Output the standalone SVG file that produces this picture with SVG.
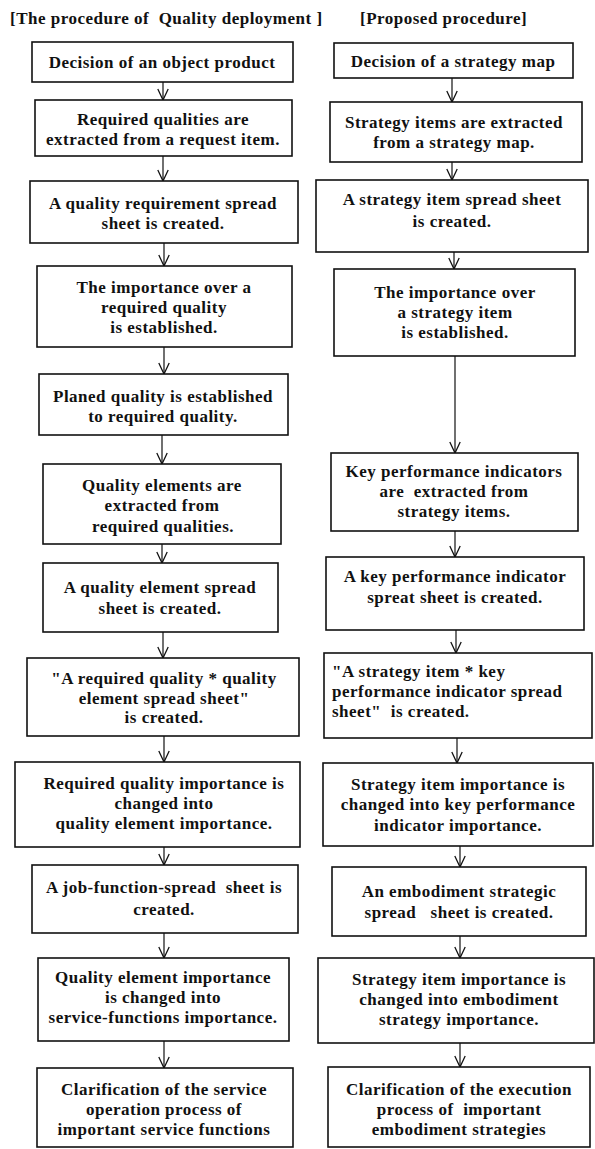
<svg xmlns="http://www.w3.org/2000/svg" width="595" height="1149" viewBox="0 0 595 1149">
  <style>
    .box { fill: #fff; stroke: #111; stroke-width: 1.6; }
    .t { font-family: "Liberation Serif", "Times New Roman", serif; font-weight: bold; font-size: 17px; letter-spacing: 0.5px; fill: #111; text-anchor: middle; }
    .tl { text-anchor: start; }
    .head { font-family: "Liberation Serif", "Times New Roman", serif; font-weight: bold; font-size: 17px; letter-spacing: 0.5px; fill: #111; }
    .conn { stroke: #111; stroke-width: 1.2; fill: none; marker-end: url(#arr); }
  </style>
  <defs>
    <marker id="arr" markerUnits="userSpaceOnUse" markerWidth="14" markerHeight="12" viewBox="0 0 14 12" refX="12" refY="6" orient="auto">
      <path d="M1,0.8 L12,6 L1,11.2" fill="none" stroke="#111" stroke-width="1.3"/>
    </marker>
  </defs>
  <rect width="595" height="1149" fill="#fff"/>

  <!-- column headings -->
  <text class="head" x="10" y="24" xml:space="preserve">[The procedure of  Quality deployment ]</text>
  <text class="head" x="360" y="24">[Proposed procedure]</text>

  <!-- connectors -->
  <g id="connectors">
    <line class="conn" x1="163" y1="82" x2="163" y2="100"/>
    <line class="conn" x1="163" y1="156" x2="163" y2="181"/>
    <line class="conn" x1="164" y1="243" x2="164" y2="266"/>
    <line class="conn" x1="164" y1="347" x2="164" y2="374"/>
    <line class="conn" x1="162" y1="435" x2="162" y2="464"/>
    <line class="conn" x1="162" y1="544" x2="162" y2="563"/>
    <line class="conn" x1="163" y1="632" x2="163" y2="658"/>
    <line class="conn" x1="164" y1="736" x2="164" y2="762"/>
    <line class="conn" x1="164" y1="847" x2="164" y2="865"/>
    <line class="conn" x1="164" y1="933" x2="164" y2="958"/>
    <line class="conn" x1="164" y1="1041" x2="164" y2="1068"/>

    <line class="conn" x1="452" y1="78" x2="452" y2="102"/>
    <line class="conn" x1="452" y1="162" x2="452" y2="180"/>
    <line class="conn" x1="454" y1="252" x2="454" y2="269"/>
    <line class="conn" x1="455" y1="356" x2="455" y2="453"/>
    <line class="conn" x1="455" y1="531" x2="455" y2="557"/>
    <line class="conn" x1="456" y1="630" x2="456" y2="653"/>
    <line class="conn" x1="457" y1="738" x2="457" y2="763"/>
    <line class="conn" x1="460" y1="846" x2="460" y2="867"/>
    <line class="conn" x1="460" y1="936" x2="460" y2="958"/>
    <line class="conn" x1="460" y1="1043" x2="460" y2="1067"/>
  </g>

  <!-- left column: quality deployment -->
  <g id="q1">
    <rect class="box" x="32" y="42" width="261" height="40"/>
    <text class="t" x="162" y="68">Decision of an object product</text>
  </g>
  <g id="q2">
    <rect class="box" x="35" y="100" width="257" height="56"/>
    <text class="t" x="163" y="125">Required qualities are</text>
    <text class="t" x="163" y="145">extracted from a request item.</text>
  </g>
  <g id="q3">
    <rect class="box" x="30" y="181" width="268" height="62"/>
    <text class="t" x="163" y="209">A quality requirement spread</text>
    <text class="t" x="163" y="229">sheet is created.</text>
  </g>
  <g id="q4">
    <rect class="box" x="37" y="266" width="255" height="81"/>
    <text class="t" x="164" y="293">The importance over a</text>
    <text class="t" x="164" y="313">required quality</text>
    <text class="t" x="164" y="333">is established.</text>
  </g>
  <g id="q5">
    <rect class="box" x="39" y="374" width="249" height="61"/>
    <text class="t" x="163" y="402">Planed quality is established</text>
    <text class="t" x="163" y="422">to required quality.</text>
  </g>
  <g id="q6">
    <rect class="box" x="43" y="464" width="238" height="80"/>
    <text class="t" x="162" y="491">Quality elements are</text>
    <text class="t" x="162" y="511">extracted from</text>
    <text class="t" x="163" y="532">required qualities.</text>
  </g>
  <g id="q7">
    <rect class="box" x="43" y="563" width="235" height="69"/>
    <text class="t" x="160" y="593">A quality element spread</text>
    <text class="t" x="160" y="614">sheet is created.</text>
  </g>
  <g id="q8">
    <rect class="box" x="27" y="658" width="272" height="78"/>
    <text class="t" x="164" y="684">"A required quality * quality</text>
    <text class="t" x="164" y="704">element spread sheet"</text>
    <text class="t" x="164" y="723">is created.</text>
  </g>
  <g id="q9">
    <rect class="box" x="15" y="762" width="285" height="85"/>
    <text class="t" x="164" y="789">Required quality importance is</text>
    <text class="t" x="164" y="809">changed into</text>
    <text class="t" x="164" y="829">quality element importance.</text>
  </g>
  <g id="q10">
    <rect class="box" x="32" y="865" width="266" height="68"/>
    <text class="t" x="164" y="893" xml:space="preserve">A job-function-spread  sheet is</text>
    <text class="t" x="164" y="915">created.</text>
  </g>
  <g id="q11">
    <rect class="box" x="38" y="958" width="251" height="83"/>
    <text class="t" x="163" y="983">Quality element importance</text>
    <text class="t" x="163" y="1003">is changed into</text>
    <text class="t" x="163" y="1023">service-functions importance.</text>
  </g>
  <g id="q12">
    <rect class="box" x="37" y="1068" width="256" height="79"/>
    <text class="t" x="164" y="1095">Clarification of the service</text>
    <text class="t" x="164" y="1115">operation process of</text>
    <text class="t" x="164" y="1135">important service functions</text>
  </g>

  <!-- right column: proposed procedure -->
  <g id="p1">
    <rect class="box" x="334" y="43" width="239" height="35"/>
    <text class="t" x="453" y="67">Decision of a strategy map</text>
  </g>
  <g id="p2">
    <rect class="box" x="330" y="102" width="252" height="60"/>
    <text class="t" x="454" y="128">Strategy items are extracted</text>
    <text class="t" x="454" y="148">from a strategy map.</text>
  </g>
  <g id="p3">
    <rect class="box" x="316" y="180" width="272" height="72"/>
    <text class="t" x="452" y="205">A strategy item spread sheet</text>
    <text class="t" x="452" y="227">is created.</text>
  </g>
  <g id="p4">
    <rect class="box" x="334" y="269" width="241" height="87"/>
    <text class="t" x="455" y="298">The importance over</text>
    <text class="t" x="455" y="318">a strategy item</text>
    <text class="t" x="455" y="338">is established.</text>
  </g>
  <g id="p5">
    <rect class="box" x="331" y="453" width="247" height="78"/>
    <text class="t" x="454" y="477">Key performance indicators</text>
    <text class="t" x="454" y="497" xml:space="preserve">are  extracted from</text>
    <text class="t" x="454" y="517">strategy items.</text>
  </g>
  <g id="p6">
    <rect class="box" x="326" y="557" width="258" height="73"/>
    <text class="t" x="455" y="582">A key performance indicator</text>
    <text class="t" x="455" y="603">spreat sheet is created.</text>
  </g>
  <g id="p7">
    <rect class="box" x="324" y="653" width="268" height="85"/>
    <text class="t tl" x="332" y="677">"A strategy item * key</text>
    <text class="t tl" x="332" y="697">performance indicator spread</text>
    <text class="t tl" x="332" y="717" xml:space="preserve">sheet"  is created.</text>
  </g>
  <g id="p8">
    <rect class="box" x="323" y="763" width="270" height="83"/>
    <text class="t" x="458" y="790">Strategy item importance is</text>
    <text class="t" x="458" y="810">changed into key performance</text>
    <text class="t" x="458" y="831">indicator importance.</text>
  </g>
  <g id="p9">
    <rect class="box" x="332" y="867" width="254" height="69"/>
    <text class="t" x="459" y="897">An embodiment strategic</text>
    <text class="t" x="459" y="918" xml:space="preserve">spread   sheet is created.</text>
  </g>
  <g id="p10">
    <rect class="box" x="318" y="958" width="276" height="85"/>
    <text class="t" x="459" y="985">Strategy item importance is</text>
    <text class="t" x="459" y="1005">changed into embodiment</text>
    <text class="t" x="459" y="1025">strategy importance.</text>
  </g>
  <g id="p11">
    <rect class="box" x="328" y="1067" width="262" height="80"/>
    <text class="t" x="459" y="1095">Clarification of the execution</text>
    <text class="t" x="459" y="1115" xml:space="preserve">process of  important</text>
    <text class="t" x="459" y="1135">embodiment strategies</text>
  </g>
</svg>
